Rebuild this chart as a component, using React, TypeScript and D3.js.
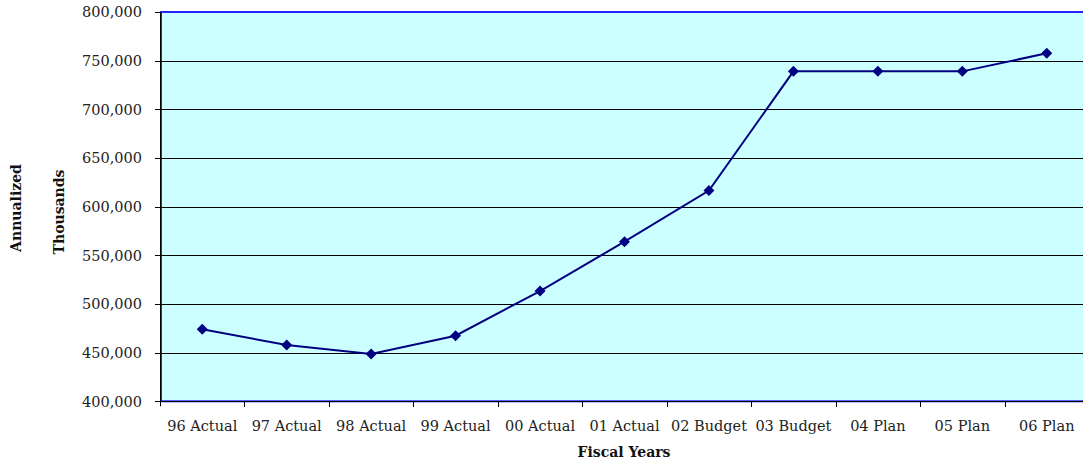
import React from "react";
import * as d3 from "d3";

const categories = [
  "96 Actual", "97 Actual", "98 Actual", "99 Actual", "00 Actual", "01 Actual",
  "02 Budget", "03 Budget", "04 Plan", "05 Plan", "06 Plan",
];
const values = [474000, 457800, 448600, 467400, 513300, 564000, 616500, 739000, 739000, 739000, 757600];
const yTicks = [400000, 450000, 500000, 550000, 600000, 650000, 700000, 750000, 800000];

const W = 1083;
const H = 462;
const plot = { left: 160, top: 12, right: 1089, bottom: 401.3 };
const FONT = "'DejaVu Serif', serif";
const NAVY = "#000080";

export default function App() {
  const x = d3.scaleBand<string>().domain(categories).range([plot.left, plot.right]).padding(0);
  const y = d3.scaleLinear().domain([400000, 800000]).range([plot.bottom, plot.top]);
  const fmt = d3.format(",");
  const line = d3
    .line<number>()
    .x((_, i) => (x(categories[i]) as number) + x.bandwidth() / 2)
    .y((v) => y(v));
  const diamond = (cx: number, cy: number, r: number) =>
    `M${cx},${cy - r}L${cx + r},${cy}L${cx},${cy + r}L${cx - r},${cy}Z`;

  return (
    <svg
      width={W}
      height={H}
      style={{ position: "absolute", left: 0, top: 0, background: "#fff" }}
      fontFamily={FONT}
    >
      {/* plot area */}
      <rect
        x={plot.left + 1}
        y={plot.top}
        width={plot.right - plot.left}
        height={plot.bottom - plot.top}
        fill="#CCFFFF"
        stroke="#2222ff"
        strokeWidth={2}
      />
      {/* horizontal gridlines */}
      {yTicks.slice(1, -1).map((t) => (
        <line key={t} x1={plot.left} x2={plot.right} y1={Math.round(y(t)) + 0.5} y2={Math.round(y(t)) + 0.5} stroke="#000" strokeWidth={1} />
      ))}
      {/* axes */}
      <line x1={plot.left + 0.5} x2={plot.left + 0.5} y1={plot.top} y2={plot.bottom + 5} stroke="#000" />
      <line x1={plot.left - 5} x2={plot.right} y1={401.5} y2={401.5} stroke="#000" />
      {yTicks.map((t) => (
        <g key={t}>
          <line x1={plot.left - 5} x2={plot.left} y1={Math.round(y(t)) + 0.5} y2={Math.round(y(t)) + 0.5} stroke="#000" />
          <text x={142} y={y(t)} dy="0.36em" textAnchor="end" fontSize={14.5} fill="#222">
            {fmt(t)}
          </text>
        </g>
      ))}
      {categories.map((c, i) => {
        const x0 = x(c) as number;
        return (
          <g key={c}>
            {i > 0 && <line x1={Math.round(x0) + 0.5} x2={Math.round(x0) + 0.5} y1={401} y2={407} stroke="#000" />}
            <text x={x0 + x.bandwidth() / 2} y={431} textAnchor="middle" fontSize={14.5} fill="#222">
              {c}
            </text>
          </g>
        );
      })}
      {/* series */}
      <path d={line(values) ?? ""} fill="none" stroke={NAVY} strokeWidth={2} />
      {values.map((v, i) => (
        <path
          key={i}
          d={diamond((x(categories[i]) as number) + x.bandwidth() / 2, y(v), 5.5)}
          fill={NAVY}
        />
      ))}
      {/* axis titles */}
      <text x={624} y={457} textAnchor="middle" fontSize={14} fontWeight="bold" fill="#111">
        Fiscal Years
      </text>
      <text transform={`translate(21,208) rotate(-90)`} textAnchor="middle" fontSize={14} fontWeight="bold" fill="#111">
        Annualized
      </text>
      <text transform={`translate(64,212) rotate(-90)`} textAnchor="middle" fontSize={14} fontWeight="bold" fill="#111">
        Thousands
      </text>
    </svg>
  );
}
